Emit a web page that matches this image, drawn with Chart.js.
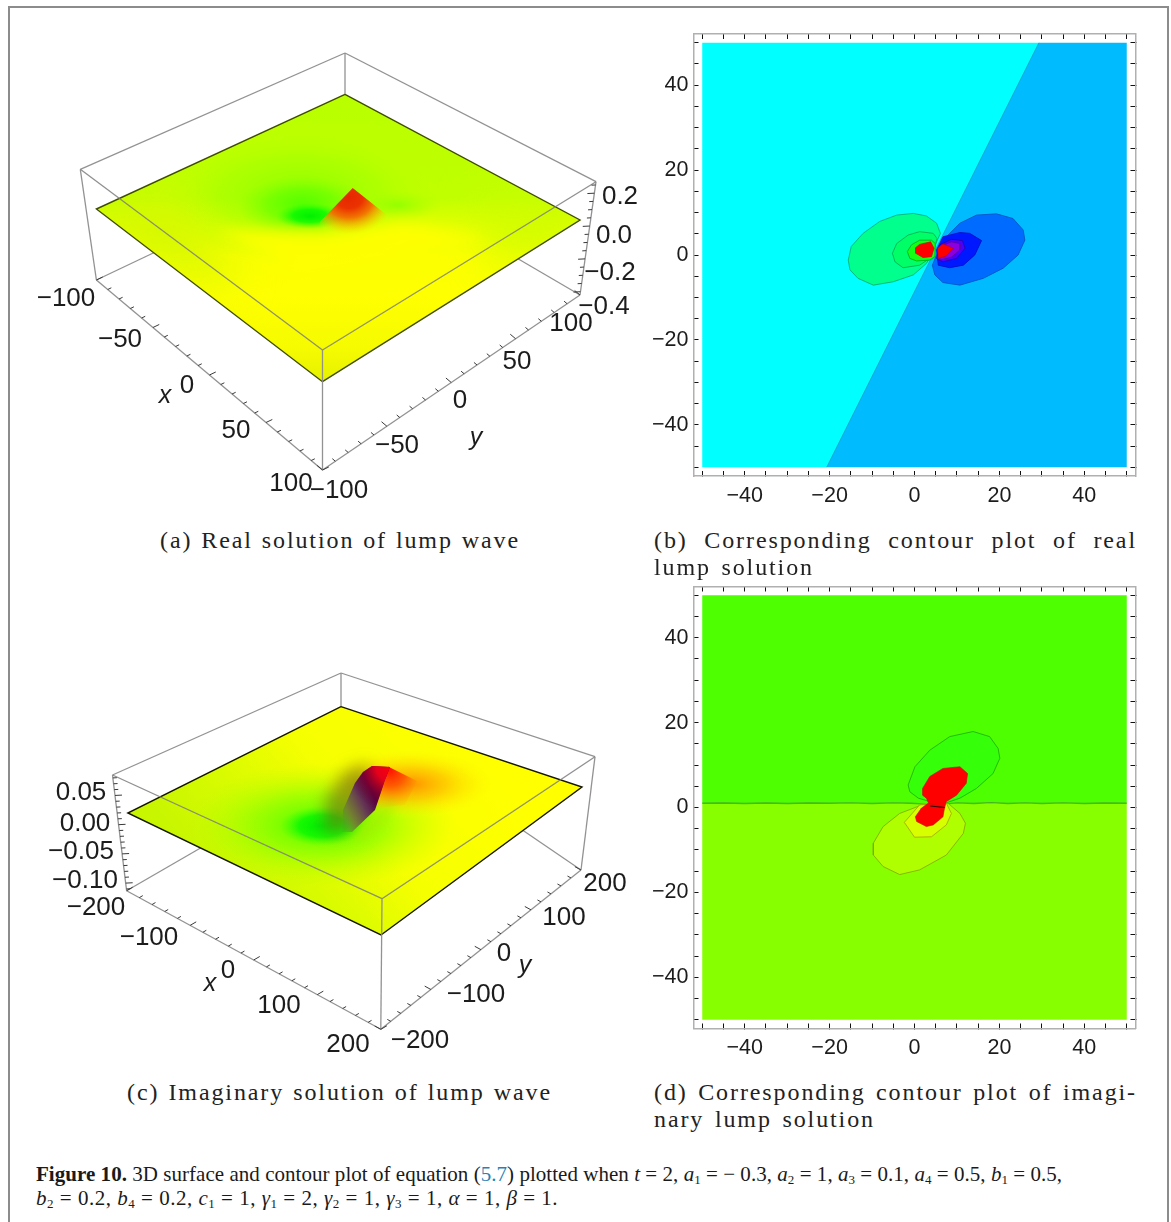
<!DOCTYPE html>
<html><head><meta charset="utf-8">
<script src="https://cdn.jsdelivr.net/npm/chart.js@4"></script>
<style>
html,body{margin:0;padding:0;background:#fff;width:1171px;height:1222px;overflow:hidden}
#frame{position:absolute;left:8px;top:6px;width:1157px;height:1240px;border:2px solid #8c8c8c;box-sizing:content-box}
canvas{position:absolute;filter:blur(.45px)}
.cap{position:absolute;white-space:pre;font-family:"Liberation Serif",serif;color:#222;line-height:1;transform:translateY(-50%)}
.foot{font-size:21px;color:#1a1a1a}
.foot sub{font-size:13px;vertical-align:-3px;line-height:0}
.foot i{font-style:italic}
</style></head><body>
<div id="frame"></div>
<canvas id="pa" style="left:20px;top:30px" width="630" height="490"></canvas>
<canvas id="pb" style="left:650px;top:20px" width="500" height="490"></canvas>
<canvas id="pc" style="left:20px;top:660px" width="630" height="410"></canvas>
<canvas id="pd" style="left:650px;top:572px" width="500" height="490"></canvas>
<script>
/* ---------- contour panels: axis values ---------- */
const contourTicks = [-50,-45,-40,-35,-30,-25,-20,-15,-10,-5,0,5,10,15,20,25,30,35,40,45,50];
const contourLabelled = [-40,-20,0,20,40];

/* ---------- panel (b): real part contour regions, [x,y] in plot units ---------- */
const realLeftField  = [[-50,-50],[-20.7,-50],[29.3,50],[-50,50]];
const realRightField = [[-20.7,-50],[50,-50],[50,50],[29.3,50]];
const realGreen1 = [[-15.6,-1.2],[-14.9,2],[-12.1,5.1],[-8.2,7.9],[-4.2,9.4],[-0.3,9.8],[2.8,9.2],[5.2,7.5],[6.1,5.1],[5.2,3.1],[4,0],[2.8,-2],[-0.3,-4.7],[-5,-6.3],[-9.7,-7.1],[-13.3,-5.5],[-15.2,-3.5]];
const realGreen2 = [[-5.2,0.4],[-4.2,2.7],[-1.5,4.7],[1.2,5.5],[4.4,5.1],[5.3,3.9],[4.8,2],[3.6,-0.8],[1.2,-2.4],[-2.7,-3],[-4.6,-1.6]];
const realGreen3 = [[-1.7,0.8],[-0.7,2.4],[1.2,3.5],[4,3.5],[4.9,2.7],[4.8,-0.4],[3.6,-1.2],[0.5,-1.4],[-1.1,-0.8]];
const realPeakLeft = [[0.24,1.7],[1.2,2.5],[3.8,3.1],[4.6,1.6],[4,-0.4],[2,-0.6],[0.3,0.4]];
const realBlue1 = [[4.2,-2.4],[5.2,0],[7.5,4.3],[10.7,7.5],[14.6,9.4],[19.3,9.7],[23.2,8.6],[25.6,5.9],[26,3.5],[24.4,0],[20.9,-3.1],[16.2,-5.5],[10.7,-7.1],[6.7,-6.5],[4.8,-4.7]];
const realBlue2 = [[5.2,1.2],[6.7,4.3],[10.7,5.3],[13,5.1],[15.8,3.4],[14.2,0],[11.5,-2.4],[8.3,-3],[5.6,-2.4]];
const realViolet = [[6,2.4],[8.7,3.7],[11.3,3.4],[11.9,1.6],[9.9,-0.8],[6.7,-1.6],[5.2,-0.8]];
const realPurple = [[6,2],[8.7,3.1],[10.7,2.7],[10.7,1.2],[8.7,-0.5],[6,-1.2]];
const realPeakRight = [[5.4,1.6],[6.7,2.6],[9.1,1.6],[7.5,-0.2],[5.6,-0.8]];

/* ---------- panel (d): imaginary part contour regions ---------- */
const imagSplit = [[-50,1],[-45,1.05],[-40,0.95],[-35,1.05],[-30,0.95],[-25,1.05],[-20,1],[-15,1.1],[-10,0.95],[-5,1.1],[-1,1],[3,0.8],[7,0.8],[10,1.1],[14,0.95],[18,1.15],[22,0.95],[26,1.1],[30,0.95],[35,1.1],[40,0.95],[45,1.05],[50,1]];
const imagUpperField = [[-50,1],[50,1],[50,50],[-50,50]];
const imagLowerField = [[-50,-50],[50,-50],[50,1],[-50,1]];
const imagGreen = [[-1.5,5.3],[0.1,9.6],[3.6,13.5],[8.3,16.7],[13.8,17.9],[17.7,16.7],[19.7,13.9],[20.1,11.6],[18.5,8],[14.6,4.5],[10.7,2.2],[7.5,1.1],[3.6,1.4],[0.9,2.2],[-1.1,3.7]];
const imagPeakUp = [[1.9,4.5],[3.6,7.3],[6.7,9.2],[10.7,9.6],[12.5,8],[12.2,5.7],[9.9,2.9],[7.5,1.4],[7.1,0],[3.6,0.4],[2.8,2.2],[1.9,2.9]];
const imagPeakDown = [[3.2,1],[7.1,0],[6.7,-2.2],[4.4,-4.1],[2.8,-4.5],[0.5,-3.3],[0.2,-2.2],[1.6,-0.2]];
const imagSeam = [[3.7,0.35],[7.1,0]];
const imagYellow1 = [[1.2,0.4],[-3.5,-1.4],[-7.4,-4.5],[-9.7,-8.4],[-9.7,-11.2],[-7.4,-13.9],[-3.5,-15.8],[1.2,-14.7],[7.5,-11.2],[11.5,-6.1],[12,-3.7],[10.7,-1.4],[7.9,1]];
const imagYellow2 = [[1.2,0.6],[-2.4,-3.5],[0,-7],[4,-6.9],[7.5,-4.1],[8.7,-1.4],[7.5,1]];

/* ---------- 3D panels: axis values ---------- */
const aXYMajor = [-100,-50,0,50,100];
const aXYMinor = [-90,-80,-70,-60,-40,-30,-20,-10,10,20,30,40,60,70,80,90];
const aZMajor = [-0.4,-0.2,0,0.2];
const aZMinor = [-0.35,-0.3,-0.25,-0.15,-0.1,-0.05,0.05,0.1,0.15,0.25];
const aXLabels = ['\u2212100','\u221250','0','50','100'];
const aYLabels = ['\u2212100','\u221250','0','50','100'];
const aZLabels = ['\u22120.4','\u22120.2','0.0','0.2'];
const cXYMajor = [-200,-100,0,100,200];
const cXYMinor = [-180,-160,-140,-120,-80,-60,-40,-20,20,40,60,80,120,140,160,180];
const cZMajor = [-0.1,-0.05,0,0.05];
const cZMinor = [-0.11,-0.09,-0.08,-0.07,-0.06,-0.04,-0.03,-0.02,-0.01,0.01,0.02,0.03,0.04,0.06,0.07,0.08];
const cXLabels = ['\u2212200','\u2212100','0','100','200'];
const cYLabels = ['\u2212200','\u2212100','0','100','200'];
const cZLabels = ['\u22120.10','\u22120.05','0.00','0.05'];

/* ---------- 3D panels: the view, in page units ---------- */
const viewA = {
  left:20, top:30, w:630, h:490,
  tBack:[345,53], tLeft:[80.3,169.3], tRight:[596,181.7], tFront:[322.5,350],
  bBack:[349,160], bLeft:[96.4,280], bRight:[580,295], bFront:[322.5,470],
  surf:[[345,94.3],[580,220],[322.5,381.7],[96.4,209]],
  xRange:[-100,100], yRange:[-100,100], zRange:[-0.42,0.27],
  xLabelAt:[[66,298],[120,339],[187,385],[236,430],[291,483]],
  yLabelAt:[[339,490],[397,445],[460,400],[517,361],[571,323]],
  zLabelAt:[[604,306],[610,272],[614,235],[620,196]],
  xName:[165,395], yName:[476,437],
  zEdge:['bRight','tRight'], zDir:[-1,0.05]
};
const viewC = {
  left:20, top:660, w:630, h:410,
  tBack:[341,673], tLeft:[112.5,775], tRight:[595,756.7], tFront:[382,898.7],
  bBack:[389,739], bLeft:[126.6,890.7], bRight:[581,870], bFront:[380.8,1029.3],
  surf:[[341,706.7],[582,787],[381,935],[127.8,813]],
  xRange:[-200,200], yRange:[-200,200], zRange:[-0.113,0.085],
  xLabelAt:[[96,907],[149,937],[228,970],[279,1005],[348,1044]],
  yLabelAt:[[420,1040],[476,994],[504,953],[564,917],[605,883]],
  zLabelAt:[[85,880],[81,851],[85,823],[81,792]],
  xName:[210,983], yName:[525,965],
  zEdge:['bLeft','tLeft'], zDir:[1,-0.05]
};
const peakA = [[352.7,188],[320,221.7],[320,245],[400,245],[400,224],[383,212]];
const ribbonC = [[363,772],[372,766],[390,767],[385,780],[375,810],[352,832],[342,832],[343,810],[355,783]];
const ridgeC = [[388,766.5],[417,781],[405,805],[376,808],[385,780]];

/* ---------- helpers ---------- */
const pts = a => a.map(p => ({x:p[0], y:p[1]}));
const closed = a => pts(a.concat([a[0]]));
const mix = (A,B,t) => [A[0]+(B[0]-A[0])*t, A[1]+(B[1]-A[1])*t];
const frac = (v,r) => (v-r[0])/(r[1]-r[0]);
const poly = (a,fill,stroke,width) => ({data:closed(a),showLine:true,fill:'shape',backgroundColor:fill,borderColor:stroke||'transparent',borderWidth:stroke?(width||1):0,pointRadius:0,tension:0,clip:false});
const path = (a,stroke,width) => ({data:a,showLine:true,fill:false,borderColor:stroke,borderWidth:width||1,pointRadius:0,tension:0,clip:false,spanGaps:false});
const words = (at,texts,font,color) => ({data:pts(at),pointRadius:0,showLine:false,texts,font,color,clip:false});

const textPlugin = {id:'pointTexts',afterDatasetsDraw(chart){
  const c=chart.ctx;
  chart.data.datasets.forEach((ds,i)=>{
    if(!ds.texts) return;
    c.save();c.font=ds.font;c.fillStyle=ds.color;c.textAlign='center';c.textBaseline='middle';
    chart.getDatasetMeta(i).data.forEach((el,j)=>c.fillText(ds.texts[j],el.x,el.y+1));
    c.restore();
  });
}};

function tickMarks(values,range,A,B,dir,len){
  const out=[];
  values.forEach(v=>{
    const p=mix(A,B,frac(v,range));
    out.push({x:p[0],y:p[1]},{x:p[0]+dir[0]*len,y:p[1]+dir[1]*len},{x:NaN,y:NaN});
  });
  return out;
}
const unit=(A,B)=>{const d=[B[0]-A[0],B[1]-A[1]],n=Math.hypot(d[0],d[1]);return [d[0]/n,d[1]/n];};

/* soft shading painted once and used as the polygons' fill */
function blob(g,v,cx,cy,rx,ry,stops){
  g.save();g.translate(cx-v.left,cy-v.top);g.scale(1,ry/rx);
  const r=g.createRadialGradient(0,0,0,0,0,rx);
  stops.forEach(s=>r.addColorStop(s[0],s[1]));
  g.fillStyle=r;g.beginPath();g.arc(0,0,rx,0,7);g.fill();g.restore();
}
function smear(g,v,a,color,blur){
  g.save();g.filter='blur('+blur+'px)';g.fillStyle=color;g.beginPath();
  a.forEach((p,i)=>i?g.lineTo(p[0]-v.left,p[1]-v.top):g.moveTo(p[0]-v.left,p[1]-v.top));
  g.closePath();g.fill();g.restore();
}
function shadeA(v,ctx){
  const c=document.createElement('canvas');c.width=v.w;c.height=v.h;const g=c.getContext('2d');
  const l=g.createLinearGradient(0,94-v.top,0,382-v.top);
  [[0,'#b9ff00'],[0.36,'#c0ff00'],[0.46,'#e4ff00'],[0.56,'#fbff00'],[0.7,'#ffff00'],[0.88,'#f6fb00'],[1,'#e6f200']].forEach(s=>l.addColorStop(s[0],s[1]));
  g.fillStyle=l;g.fillRect(0,0,v.w,v.h);
  smear(g,v,[[80,200],[190,190],[240,290],[130,260]],'rgba(210,248,0,.85)',22);
  smear(g,v,[[470,190],[600,205],[590,240],[500,270]],'rgba(205,252,0,.8)',22);
  blob(g,v,300,198,135,68,[[0,'rgba(120,255,0,.8)'],[0.6,'rgba(150,255,0,.4)'],[1,'rgba(190,255,0,0)']]);
  blob(g,v,303,206,66,30,[[0,'rgba(60,255,0,.75)'],[0.55,'rgba(90,255,0,.5)'],[1,'rgba(130,255,0,0)']]);
  blob(g,v,310,216,34,13,[[0,'rgba(0,240,0,1)'],[0.5,'rgba(0,250,0,.8)'],[1,'rgba(60,255,0,0)']]);
  blob(g,v,398,205,44,15,[[0,'rgba(130,255,0,.7)'],[1,'rgba(170,255,0,0)']]);
  smear(g,v,[[215,230],[322,233],[400,222],[490,240],[300,272]],'rgba(255,255,0,.9)',7);
  return ctx.createPattern(c,'no-repeat');
}
function shadeC(v,ctx){
  const c=document.createElement('canvas');c.width=v.w;c.height=v.h;const g=c.getContext('2d');
  const l=g.createLinearGradient(450-v.left,720-v.top,230-v.left,900-v.top);
  [[0,'#ffff00'],[0.45,'#f6ff00'],[0.75,'#d8fb00'],[1,'#c8f600']].forEach(s=>l.addColorStop(s[0],s[1]));
  g.fillStyle=l;g.fillRect(0,0,v.w,v.h);
  blob(g,v,320,825,135,62,[[0,'rgba(60,255,0,1)'],[0.5,'rgba(130,255,0,.65)'],[1,'rgba(190,255,0,0)']]);
  blob(g,v,322,826,42,20,[[0,'rgba(0,238,0,1)'],[0.55,'rgba(10,248,0,.85)'],[1,'rgba(70,255,0,0)']]);
  blob(g,v,408,784,85,34,[[0,'rgba(255,140,0,1)'],[0.45,'rgba(255,180,0,.65)'],[1,'rgba(255,240,0,0)']]);
  smear(g,v,[[325,832],[325,800],[345,772],[368,763],[370,800],[345,832]],'rgba(110,105,15,.6)',8);
  smear(g,v,[[352,838],[376,812],[388,792],[396,802],[385,825],[362,842]],'rgba(170,235,0,.5)',5);
  return ctx.createPattern(c,'no-repeat');
}
function shadePeakA(v,ctx){
  const c=document.createElement('canvas');c.width=v.w;c.height=v.h;const g=c.getContext('2d');
  blob(g,v,349,197,46,38,[[0,'rgba(230,40,0,1)'],[0.3,'rgba(235,50,0,1)'],[0.55,'rgba(245,110,0,.95)'],[0.78,'rgba(252,180,0,.6)'],[1,'rgba(255,230,0,0)']]);
  return ctx.createPattern(c,'no-repeat');
}

function view3d(id,v,shade,topInk,overlays,marks){
  const canvas=document.getElementById(id), ctx=canvas.getContext('2d');
  const edge='rgba(140,140,140,.95)', onTop='rgba(125,125,125,.85)';
  const seg=(A,B,col)=>path(pts([A,B]),col,1.3);
  const xDir=unit(v.bLeft,v.bBack);
  const yTick=unit(v.bFront,v.bLeft);
  const ink='#3a3a3a';
  const A=v[v.zEdge[0]],B=v[v.zEdge[1]];
  const layers=[
    seg(v.tBack,v.surf[0],edge),seg(v.bLeft,v.bBack,edge),seg(v.bRight,v.bBack,edge),
    seg(v.tBack,v.tLeft,edge),seg(v.tBack,v.tRight,edge),
    poly(v.surf,shade(v,ctx),topInk,1.4),
    ...overlays(ctx,v),
    seg(v.tLeft,v.tFront,onTop),seg(v.tRight,v.tFront,onTop),seg(v.tFront,v.bFront,edge),
    seg(v.tLeft,v.bLeft,edge),seg(v.tRight,v.bRight,edge),
    seg(v.bLeft,v.bFront,edge),seg(v.bRight,v.bFront,edge),
    path(tickMarks(marks.xyMajor,v.xRange,v.bLeft,v.bFront,xDir,7),ink,1),
    path(tickMarks(marks.xyMinor,v.xRange,v.bLeft,v.bFront,xDir,4),ink,1),
    path(tickMarks(marks.xyMajor,v.yRange,v.bFront,v.bRight,yTick,7),ink,1),
    path(tickMarks(marks.xyMinor,v.yRange,v.bFront,v.bRight,yTick,4),ink,1),
    path(tickMarks(marks.zMajor,v.zRange,A,B,v.zDir,7),ink,1),
    path(tickMarks(marks.zMinor,v.zRange,A,B,v.zDir,4),ink,1),
    words(v.xLabelAt,marks.xLabels,'26px "Liberation Sans"','#1c1c1c'),
    words(v.yLabelAt,marks.yLabels,'26px "Liberation Sans"','#1c1c1c'),
    words(v.zLabelAt,marks.zLabels,'26px "Liberation Sans"','#1c1c1c'),
    words([v.xName],['x'],'italic 25px "Liberation Sans"','#1c1c1c'),
    words([v.yName],['y'],'italic 25px "Liberation Sans"','#1c1c1c')
  ];
  new Chart(ctx,{type:'scatter',data:{datasets:layers.slice().reverse()},plugins:[textPlugin],options:{
    responsive:false,animation:false,events:[],
    layout:{padding:0},
    plugins:{legend:{display:false},tooltip:{enabled:false}},
    scales:{
      x:{type:'linear',display:false,min:v.left,max:v.left+v.w},
      y:{type:'linear',display:false,reverse:true,min:v.top,max:v.top+v.h}
    }
  }});
}

function contour(id,box,layers){
  const frameInk='#b0b0b0';
  const scale=(pos,labels)=>({
    type:'linear',position:pos,min:-52.06,max:52.06,
    afterBuildTicks:s=>{s.ticks=contourTicks.map(v=>({value:v}));},
    afterFit:s=>{
      if(pos==='left') s.width=box.axisLeft; else if(pos==='bottom') s.height=box.axisBottom; else if(pos==='right') s.width=0; else s.height=0;
      s.paddingTop=s.paddingBottom=s.paddingLeft=s.paddingRight=0;
    },
    border:{display:true,color:frameInk,width:1.5},
    grid:{drawOnChartArea:false,drawTicks:true,tickLength:-5,tickColor:'#111',tickWidth:1},
    ticks:{display:labels,autoSkip:false,maxRotation:0,minRotation:0,padding:pos==='left'?10:12,color:'#1c1c1c',
      font:{family:'"Liberation Sans"',size:21.5},
      callback:v=>contourLabelled.includes(v)?(v<0?'\u2212'+(-v):String(v)):''}
  });
  new Chart(document.getElementById(id).getContext('2d'),{type:'scatter',data:{datasets:layers.slice().reverse()},options:{
    responsive:false,animation:false,events:[],
    layout:{padding:{left:0,top:box.padTop,right:box.padRight,bottom:0}},
    plugins:{legend:{display:false},tooltip:{enabled:false}},
    scales:{x:scale('bottom',true),x2:scale('top',false),y:scale('left',true),y2:scale('right',false)}
  }});
}

/* ---------- draw ---------- */
view3d('pa',viewA,shadeA,'#3f4d00',(ctx,v)=>[poly(peakA,shadePeakA(v,ctx))],
 {xyMajor:aXYMajor,xyMinor:aXYMinor,zMajor:aZMajor,zMinor:aZMinor,xLabels:aXLabels,yLabels:aYLabels,zLabels:aZLabels});

view3d('pc',viewC,shadeC,'#161600',(ctx,v)=>{
  const q=ctx.createRadialGradient(390-v.left,770-v.top,0,390-v.left,770-v.top,42);
  q.addColorStop(0,'rgba(255,20,0,1)');q.addColorStop(0.4,'rgba(255,90,0,.95)');q.addColorStop(0.75,'rgba(255,160,0,.45)');q.addColorStop(1,'rgba(255,200,0,0)');
  const g=ctx.createLinearGradient(338-v.left,820-v.top,386-v.left,796-v.top);
  g.addColorStop(0,'rgba(70,170,30,.3)');g.addColorStop(0.25,'rgba(115,125,50,.9)');g.addColorStop(0.55,'rgba(100,55,85,1)');g.addColorStop(0.8,'rgba(85,0,65,1)');g.addColorStop(1,'rgba(110,0,55,1)');
  const r=ctx.createRadialGradient(392-v.left,766-v.top,0,392-v.left,766-v.top,46);
  r.addColorStop(0,'rgba(255,0,10,1)');r.addColorStop(0.35,'rgba(235,0,25,.95)');r.addColorStop(0.7,'rgba(140,0,40,.45)');r.addColorStop(1,'rgba(100,0,50,0)');
  return [poly(ridgeC,q),poly(ribbonC,g),poly(ribbonC,r)];
},{xyMajor:cXYMajor,xyMinor:cXYMinor,zMajor:cZMajor,zMinor:cZMinor,xLabels:cXLabels,yLabels:cYLabels,zLabels:cZLabels});

contour('pb',{axisLeft:43.5,axisBottom:34,padTop:14,padRight:14.5},[
  poly(realLeftField,'#00ffff'),
  poly(realRightField,'#00bcff'),
  path(pts([realLeftField[1],realLeftField[2]]),'rgba(0,130,170,.55)',1),
  poly(realGreen1,'#00ff8c','rgba(0,170,110,.8)',1),
  poly(realGreen2,'#00ff66','rgba(0,170,80,.8)',1),
  poly(realGreen3,'#14ff14','rgba(0,170,30,.8)',1),
  poly(realPeakLeft,'#ff0000','rgba(190,20,0,.7)',1),
  poly(realBlue1,'#006cff','rgba(0,80,190,.8)',1),
  poly(realBlue2,'#0018ff','rgba(0,10,190,.8)',1),
  poly(realViolet,'#4a00ff','rgba(40,0,170,.8)',1),
  poly(realPurple,'#8a00e0','rgba(90,0,160,.8)',1),
  poly(realPeakRight,'#ff0000','rgba(190,0,30,.7)',1)
]);
contour('pd',{axisLeft:43.5,axisBottom:33.5,padTop:14.5,padRight:14.5},[
  poly(imagUpperField,'#4dff00'),
  poly(imagLowerField,'#88ff00'),
  path(pts(imagSplit),'rgba(70,165,40,.85)',1.4),
  poly(imagGreen,'#36ff0a','rgba(30,170,10,.8)',1),
  poly(imagYellow1,'#b0ff00','rgba(130,170,0,.85)',1),
  poly(imagYellow2,'#d8ff00','rgba(160,170,0,.85)',1),
  poly(imagPeakUp,'#ff0000','rgba(190,20,0,.6)',1),
  poly(imagPeakDown,'#ff0000','rgba(190,20,0,.6)',1),
  path(pts(imagSeam),'#300000',1.2)
]);

/* ---------- captions ---------- */
const captions=[
  ['(a) Real solution of lump wave',160,520,540],
  ['(b) Corresponding contour plot of real',654,1137,540],
  ['lump solution',654,814,567],
  ['(c) Imaginary solution of lump wave',127,552,1092],
  ['(d) Corresponding contour plot of imagi-',654,1137,1092],
  ['nary lump solution',654,875,1119]
];
captions.forEach(c=>{
  const d=document.createElement('div');d.className='cap';d.textContent=c[0];
  d.style.cssText='left:'+c[1]+'px;top:'+c[3]+'px;font-size:24px;letter-spacing:1.9px';
  document.body.appendChild(d);
  const gaps=c[0].split(' ').length-1, w=d.getBoundingClientRect().width;
  d.style.wordSpacing=((c[2]-c[1]-w)/gaps)+'px';
});
const footers=[
  ['<b>Figure 10.</b> 3D surface and contour plot of equation (<span style="color:#2a7fb5">5.7</span>) plotted when <i>t</i> = 2, <i>a</i><sub>1</sub> = \u2212 0.3, <i>a</i><sub>2</sub> = 1, <i>a</i><sub>3</sub> = 0.1, <i>a</i><sub>4</sub> = 0.5, <i>b</i><sub>1</sub> = 0.5,',36,1062,1174],
  ['<i>b</i><sub>2</sub> = 0.2, <i>b</i><sub>4</sub> = 0.2, <i>c</i><sub>1</sub> = 1, <i>\u03b3</i><sub>1</sub> = 2, <i>\u03b3</i><sub>2</sub> = 1, <i>\u03b3</i><sub>3</sub> = 1, <i>\u03b1</i> = 1, <i>\u03b2</i> = 1.',36,558,1198]
];
footers.forEach(f=>{
  const d=document.createElement('div');d.className='cap foot';d.innerHTML=f[0];
  d.style.left=f[1]+'px';d.style.top=f[3]+'px';
  document.body.appendChild(d);
  const w=d.getBoundingClientRect().width, n=d.textContent.length;
  d.style.letterSpacing=((f[2]-f[1]-w)/n)+'px';
});
</script>
</body></html>
